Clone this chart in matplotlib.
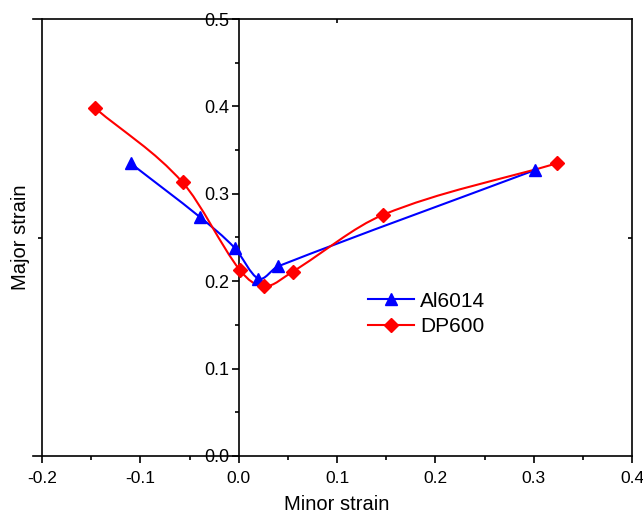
import matplotlib
matplotlib.use('Agg')
import matplotlib.pyplot as plt
import numpy as np
from matplotlib.path import Path
from matplotlib.patches import PathPatch
from matplotlib.ticker import MultipleLocator, FixedLocator, NullFormatter

plt.rcParams['font.family'] = ['Liberation Sans', 'DejaVu Sans']

# data
al_minor = [-0.110, -0.039, -0.004, 0.020, 0.040, 0.301]
al_major = [0.335, 0.273, 0.238, 0.203, 0.217, 0.327]
dp_minor = [-0.146, -0.057, 0.001, 0.026, 0.055, 0.147, 0.324]
dp_major = [0.398, 0.313, 0.213, 0.194, 0.211, 0.276, 0.335]

BLUE = '#0000ff'
RED = '#ff0000'


def smooth_path(xs, ys):
    # cubic Hermite through the points (chord slopes), as Bezier segments
    x = np.asarray(xs, float)
    y = np.asarray(ys, float)
    h = np.diff(x)
    d = np.diff(y) / h
    m = np.empty_like(x)
    m[0], m[-1] = d[0], d[-1]
    m[1:-1] = (y[2:] - y[:-2]) / (x[2:] - x[:-2])
    verts = [(x[0], y[0])]
    codes = [Path.MOVETO]
    for i in range(len(x) - 1):
        verts += [(x[i] + h[i] / 3, y[i] + m[i] * h[i] / 3),
                  (x[i + 1] - h[i] / 3, y[i + 1] - m[i + 1] * h[i] / 3),
                  (x[i + 1], y[i + 1])]
        codes += [Path.CURVE4] * 3
    return Path(verts, codes)


fig = plt.figure(figsize=(6.43, 5.19), dpi=100)
ax = fig.add_axes([42 / 643, 1 - 456 / 519, 590 / 643, 437 / 519])
ax.set_xlim(-0.2, 0.4)
ax.set_ylim(0.0, 0.5)

# curves
for xs, ys, c in [(al_minor, al_major, BLUE), (dp_minor, dp_major, RED)]:
    ax.add_patch(PathPatch(smooth_path(xs, ys), facecolor='none', edgecolor=c, lw=1.5, zorder=2))

ax.plot(al_minor, al_major, ls='none', marker='^', ms=8, color=BLUE, zorder=3)
ax.plot(dp_minor, dp_major, ls='none', marker='D', ms=7, color=RED, zorder=3)

# legend proxies
ax.plot([], [], color=BLUE, marker='^', ms=8, lw=1.5, label='Al6014')
ax.plot([], [], color=RED, marker='D', ms=7, lw=1.5, label='DP600')
ax.legend(loc='upper left', bbox_to_anchor=(0.538, 0.395), frameon=False, fontsize=15,
          handlelength=2.2, handletextpad=0.3, labelspacing=0.3, numpoints=1,
          borderaxespad=0)

# frame
for s in ax.spines.values():
    s.set_linewidth(1.2)
ax.spines['top'].set_bounds(-0.209, 0.4)
ax.spines['bottom'].set_bounds(-0.209, 0.4)

ax.set_xticks([-0.2, -0.1, 0.0, 0.1, 0.2, 0.3, 0.4])
ax.set_xticklabels(['-0.2', '-0.1', '0.0', '0.1', '0.2', '0.3', '0.4'])
ax.xaxis.set_minor_locator(MultipleLocator(0.05))
ax.tick_params(axis='x', which='major', direction='out', length=5, width=1.2,
               labelsize=12.5, top=False, pad=6)
ax.tick_params(axis='x', which='minor', direction='out', length=3, width=1.2, top=False)

# outer left frame: single tick at 0.25
ax.yaxis.set_major_locator(FixedLocator([0.25]))
ax.yaxis.set_major_formatter(NullFormatter())
ax.tick_params(axis='y', which='major', direction='out', length=3, width=1.2,
               left=True, right=False)

# right frame: one inward tick at 0.25
rt = ax.secondary_yaxis('right')
rt.set_yticks([0.25])
rt.yaxis.set_major_formatter(NullFormatter())
rt.tick_params(direction='in', length=3, width=1.2)
rt.spines['right'].set_visible(False)

# top: one tick at 0.1
top = ax.secondary_xaxis('top')
top.set_xticks([0.1])
top.xaxis.set_major_formatter(NullFormatter())
top.tick_params(direction='in', length=3, width=1.2)
top.spines['top'].set_visible(False)

# centre y axis at x = 0
mid = ax.secondary_yaxis(0.0, transform=ax.transData)
mid.set_yticks([0.0, 0.1, 0.2, 0.3, 0.4, 0.5])
mid.set_yticklabels(['0.0', '0.1', '0.2', '0.3', '0.4', '0.5'])
mid.yaxis.set_minor_locator(MultipleLocator(0.05))
mid.tick_params(which='major', direction='out', length=5, width=1.2, labelsize=13, pad=2)
mid.tick_params(which='minor', direction='out', length=3, width=1.2)
mid.spines['left'].set_linewidth(1.2)

ax.set_xlabel('Minor strain', fontsize=14.5, labelpad=6)
ax.set_ylabel('Major strain', fontsize=14.5)
ax.yaxis.set_label_coords(-0.021, 0.5)

fig.savefig('out.png', dpi=100)
